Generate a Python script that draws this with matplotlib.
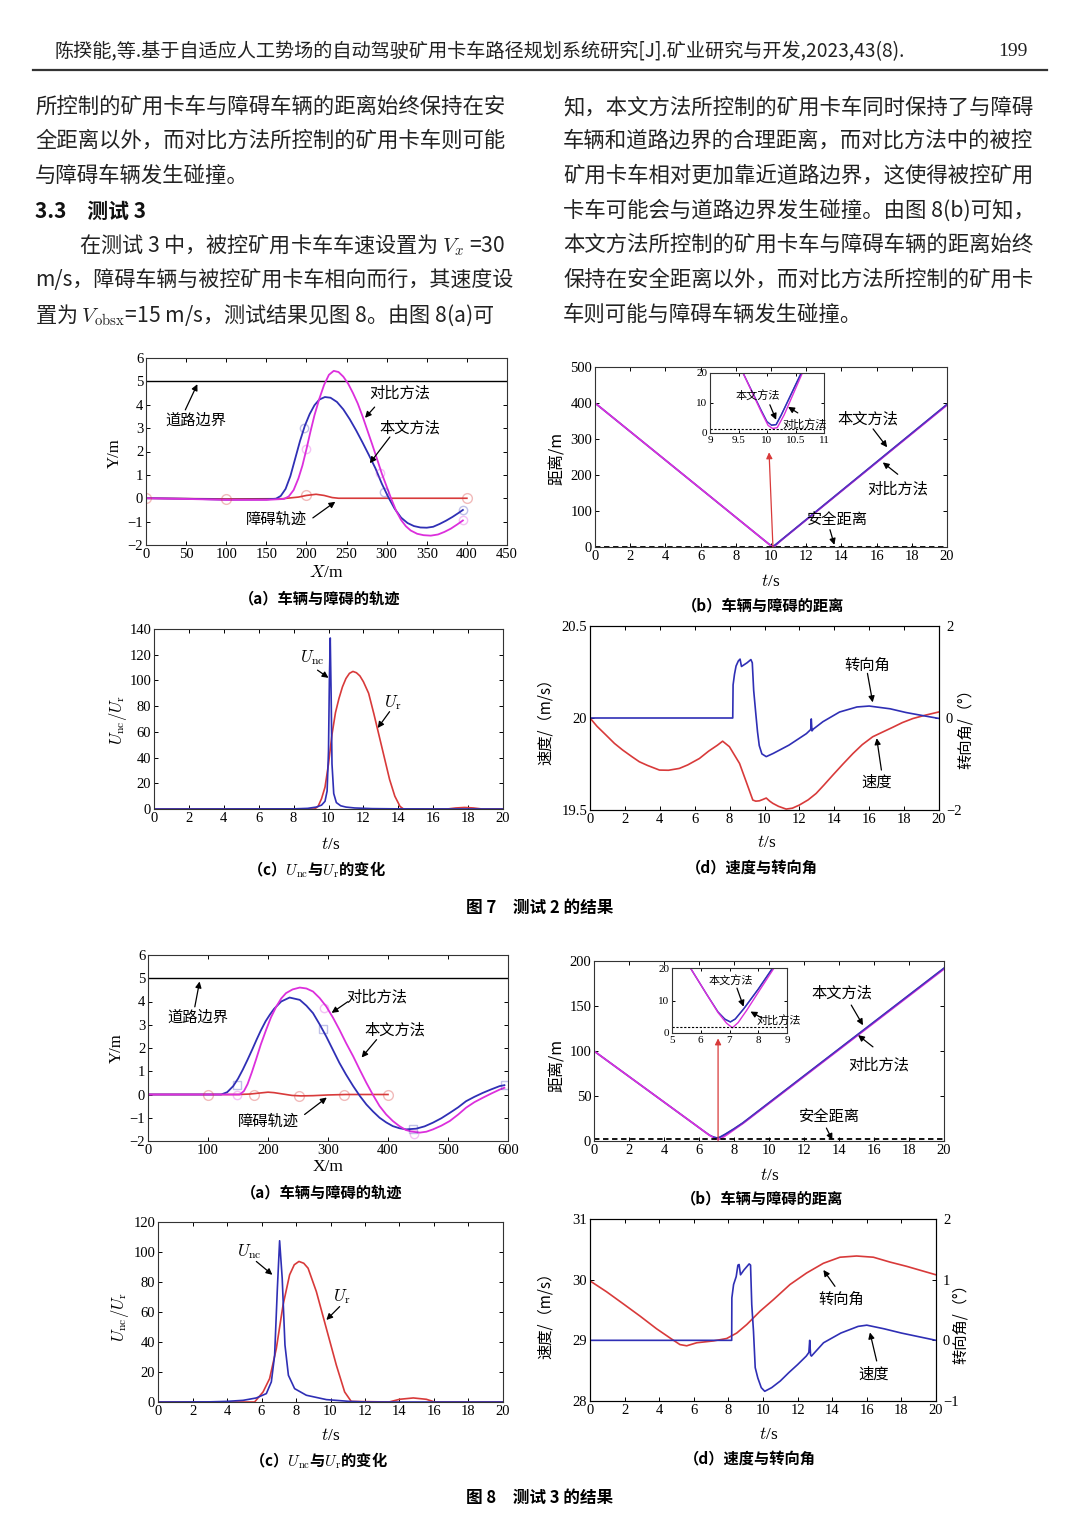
import matplotlib
matplotlib.use('Agg')
import matplotlib.pyplot as plt
from matplotlib.lines import Line2D

plt.rcParams['font.family'] = ['Liberation Serif', 'Noto Sans CJK SC']
plt.rcParams['mathtext.fontset'] = 'cm'
CJK = ['Noto Sans CJK SC', 'DejaVu Sans']

# ---------------- data: figure 7 (test 2) ----------------
# (a) trajectories
x7a_ours = [0, 50, 100, 150, 162, 168, 174, 180, 186, 192, 198, 204, 210, 216, 223, 230, 238, 246, 254, 262, 270, 278, 286, 294, 302, 310, 318, 326, 334, 342, 350, 358, 366, 374, 382, 390, 395]
y7a_ours = [0, -0.02, -0.06, -0.05, -0.02, 0.1, 0.4, 0.95, 1.7, 2.45, 3.1, 3.6, 3.98, 4.22, 4.33, 4.3, 4.12, 3.8, 3.38, 2.9, 2.38, 1.84, 1.28, 0.62, 0.05, -0.45, -0.83, -1.06, -1.19, -1.25, -1.26, -1.22, -1.1, -0.96, -0.8, -0.62, -0.5]
x7a_comp = [0, 50, 100, 150, 172, 178, 184, 190, 195, 200, 205, 210, 216, 222, 228, 234, 240, 246, 252, 258, 264, 270, 276, 282, 288, 294, 300, 306, 312, 318, 324, 330, 338, 346, 355, 364, 372, 380, 388, 395]
y7a_comp = [0, -0.03, -0.07, -0.07, -0.03, 0.08, 0.35, 0.85, 1.4, 2.1, 2.85, 3.55, 4.25, 4.85, 5.28, 5.45, 5.4, 5.2, 4.9, 4.5, 4.05, 3.5, 2.9, 2.3, 1.68, 1.05, 0.5, -0.05, -0.55, -0.93, -1.2, -1.38, -1.52, -1.58, -1.6, -1.55, -1.44, -1.3, -1.12, -0.95]
x7a_obs = [0, 100, 170, 190, 200, 212, 222, 232, 240, 400]
y7a_obs = [0, -0.03, -0.02, 0.05, 0.12, 0.17, 0.12, 0.03, 0, 0]
road_y = 5
# (b) distance
t7b_ours = [0, 9.58, 9.9, 10.0, 10.08, 10.16, 10.25, 10.6, 20]
d7b_ours = [400, 20, 7.5, 3.8, 2.6, 2.8, 6.0, 20, 396]
t7b_comp = [0, 9.58, 9.9, 10.02, 10.1, 10.18, 10.3, 10.62, 20]
d7b_comp = [400, 20, 7.0, 2.5, 1.5, 1.8, 6.0, 20, 394]
safe7 = 1.3
# (c) potentials
t7c_nc = [0, 8.0, 8.8, 9.3, 9.6, 9.8, 9.92, 10.0, 10.05, 10.1, 10.15, 10.2, 10.3, 10.45, 10.7, 11.0, 11.5, 12.5, 14, 20]
u7c_nc = [0, 0.1, 0.5, 1.5, 3, 6, 14, 45, 100, 133, 90, 35, 12, 5, 2.5, 1.5, 0.8, 0.3, 0.1, 0]
t7c_r = [0, 9.2, 9.4, 9.6, 9.8, 10.0, 10.2, 10.4, 10.6, 10.8, 11.0, 11.2, 11.4, 11.6, 11.8, 12.0, 12.3, 12.6, 12.9, 13.2, 13.5, 13.8, 14.1, 14.3, 16.8, 17.3, 17.8, 18.3, 18.8, 20]
u7c_r = [0, 0, 2, 8, 17, 35, 58, 75, 86, 95, 101.5, 105.5, 107, 106, 103.5, 99, 90, 74, 57, 40, 23, 10, 2, 0, 0, 0.8, 1.2, 0.8, 0, 0]
# (d) speed and steering angle
t7d_ang = [0, 8.18, 8.2, 8.28, 8.37, 8.5, 8.6, 8.68, 9.0, 9.22, 9.3, 9.38, 9.5, 9.6, 9.7, 9.85, 10.1, 10.5, 11.4, 12.4, 12.65, 12.68, 12.72, 12.8, 13.35, 14.3, 15.3, 16.0, 17.2, 18.1, 19.1, 20]
a7d_ang = [0, 0, 0.72, 0.95, 1.13, 1.24, 1.28, 1.12, 1.2, 1.27, 1.2, 0.6, 0.1, -0.3, -0.6, -0.78, -0.84, -0.77, -0.59, -0.34, -0.25, -0.02, -0.28, -0.24, -0.08, 0.13, 0.24, 0.26, 0.2, 0.12, 0.05, -0.01]
t7d_v = [0, 0.4, 0.92, 1.4, 1.87, 2.4, 2.83, 3.3, 3.98, 4.5, 5.12, 5.6, 6.27, 6.8, 7.3, 7.6, 7.99, 8.57, 8.95, 9.33, 9.5, 9.71, 9.9, 10.1, 10.3, 10.48, 10.8, 11.24, 11.6, 12.0, 12.5, 12.96, 13.4, 13.92, 14.5, 15.07, 15.6, 16.2, 16.8, 17.36, 17.9, 18.5, 19.2, 20]
v7d_v = [20.0, 19.955, 19.907, 19.862, 19.826, 19.79, 19.762, 19.742, 19.717, 19.716, 19.726, 19.745, 19.78, 19.82, 19.852, 19.874, 19.844, 19.753, 19.654, 19.554, 19.548, 19.55, 19.557, 19.565, 19.548, 19.536, 19.52, 19.505, 19.51, 19.527, 19.555, 19.59, 19.635, 19.69, 19.75, 19.807, 19.855, 19.898, 19.925, 19.95, 19.975, 19.997, 20.015, 20.033]

# ---------------- data: figure 8 (test 3) ----------------
x8a_ours = [0, 100, 122, 132, 142, 150, 158, 166, 174, 181, 188, 196, 203, 210, 222, 236, 253, 264, 275, 286, 297, 308, 319, 330, 342, 353, 364, 375, 386, 397, 408, 419, 430, 447, 461, 475, 489, 503, 517, 530, 544, 558, 572, 586, 594]
y8a_ours = [0, 0, 0, 0.1, 0.36, 0.68, 1.07, 1.5, 1.95, 2.36, 2.75, 3.15, 3.43, 3.68, 4.0, 4.17, 4.07, 3.82, 3.5, 3.02, 2.5, 1.93, 1.36, 0.86, 0.36, -0.06, -0.43, -0.73, -1.0, -1.2, -1.36, -1.45, -1.5, -1.47, -1.37, -1.21, -1.02, -0.79, -0.55, -0.29, -0.1, 0.07, 0.22, 0.36, 0.4]
x8a_comp = [0, 100, 153, 160, 166, 173, 180, 188, 197, 205, 214, 222, 230, 241, 253, 264, 275, 286, 297, 308, 319, 330, 342, 353, 364, 375, 386, 397, 408, 419, 430, 441, 453, 464, 475, 489, 503, 517, 530, 544, 558, 572, 586, 594]
y8a_comp = [0, 0, 0, 0.15, 0.45, 0.95, 1.5, 2.15, 2.79, 3.32, 3.79, 4.13, 4.36, 4.52, 4.6, 4.56, 4.43, 4.15, 3.79, 3.32, 2.79, 2.22, 1.64, 1.06, 0.5, -0.02, -0.5, -0.86, -1.14, -1.36, -1.53, -1.6, -1.64, -1.6, -1.5, -1.34, -1.14, -0.86, -0.57, -0.33, -0.14, 0.04, 0.21, 0.29]
x8a_obs = [0, 150, 170, 185, 200, 210, 225, 240, 255, 275, 300, 330, 400]
y8a_obs = [0, 0, 0.02, 0.06, 0.1, 0.08, 0.02, -0.04, -0.06, -0.05, -0.02, 0, 0]
t8b_ours = [0, 5.64, 6.2, 6.6, 6.85, 7.03, 7.2, 7.5, 8.0, 8.5, 20]
d8b_ours = [100, 20, 12, 6.5, 4.2, 3.4, 4.3, 7.5, 13.5, 20, 192]
t8b_comp = [0, 5.64, 6.2, 6.6, 6.9, 7.1, 7.3, 7.6, 8.05, 8.55, 20]
d8b_comp = [100, 20, 12, 6.3, 3.0, 1.6, 3.2, 7.0, 13.2, 20, 191]
safe8 = 1.8
t8c_nc = [0, 3, 3.96, 4.93, 5.7, 6.28, 6.57, 6.76, 6.92, 7.05, 7.2, 7.36, 7.56, 7.92, 8.6, 9.76, 11.1, 12.1, 20]
u8c_nc = [0, 0.1, 0.4, 1.1, 2.7, 5.6, 13.4, 31, 75.8, 107.5, 82.5, 38, 17.8, 8.9, 4.5, 1.6, 0.4, 0, 0]
t8c_r = [0, 5.6, 6.09, 6.47, 6.86, 7.25, 7.63, 7.9, 8.17, 8.45, 8.7, 9.18, 9.76, 10.34, 10.82, 11.2, 13.4, 14.0, 14.8, 15.56, 16.04, 20]
u8c_r = [0, 0, 6.7, 15.6, 35.7, 64.7, 84.8, 91.5, 93.7, 92.5, 89.2, 73.6, 49, 24.5, 6.7, 0.4, 0, 1.8, 2.7, 1.8, 0, 0]
t8d_v = [0, 0.96, 1.93, 2.89, 3.85, 4.62, 5.2, 5.59, 6.17, 7.13, 7.9, 8.48, 9.06, 9.83, 10.6, 11.56, 12.52, 13.49, 14.45, 15.41, 16.38, 17.34, 18.3, 19.27, 20]
v8d_v = [29.98, 29.8, 29.6, 29.4, 29.19, 29.04, 28.93, 28.91, 28.96, 28.99, 29.03, 29.12, 29.26, 29.48, 29.67, 29.92, 30.11, 30.27, 30.37, 30.39, 30.37, 30.29, 30.22, 30.14, 30.08]
t8d_ang = [0, 8.19, 8.2, 8.3, 8.45, 8.55, 8.62, 8.7, 8.9, 9.2, 9.28, 9.35, 9.45, 9.55, 9.7, 9.9, 10.1, 10.5, 11.0, 11.5, 12.0, 12.5, 12.65, 12.7, 12.75, 12.8, 13.5, 14.5, 15.5, 16.0, 17.0, 18.0, 19.0, 20.0]
a8d_ang = [0, 0, 0.7, 0.92, 1.05, 1.24, 1.25, 1.08, 1.16, 1.26, 1.24, 0.59, 0.15, -0.45, -0.62, -0.78, -0.84, -0.78, -0.67, -0.53, -0.4, -0.26, -0.2, 0.0, -0.24, -0.26, -0.04, 0.12, 0.23, 0.25, 0.19, 0.12, 0.06, 0]

# ---------------- page text ----------------
header = '陈揆能,等.基于自适应人工势场的自动驾驶矿用卡车路径规划系统研究[J].矿业研究与开发,2023,43(8).'
left_lines = ['所控制的矿用卡车与障碍车辆的距离始终保持在安',
              '全距离以外，而对比方法所控制的矿用卡车则可能',
              '与障碍车辆发生碰撞。']
left_lines2 = ['在测试 3 中，被控矿用卡车车速设置为 $V_x$ =30',
               'm/s，障碍车辆与被控矿用卡车相向而行，其速度设',
               '置为 $V_{\\rm obsx}$=15 m/s，测试结果见图 8。由图 8(a)可']
right_lines = ['知，本文方法所控制的矿用卡车同时保持了与障碍',
               '车辆和道路边界的合理距离，而对比方法中的被控',
               '矿用卡车相对更加靠近道路边界，这使得被控矿用',
               '卡车可能会与道路边界发生碰撞。由图 8(b)可知，',
               '本文方法所控制的矿用卡车与障碍车辆的距离始终',
               '保持在安全距离以外，而对比方法所控制的矿用卡',
               '车则可能与障碍车辆发生碰撞。']

BLUE = '#2f2fb5'
MAG = '#dc2fdc'
RED = '#d83a3a'

W, H = 1080, 1527
fig = plt.figure(figsize=(10.8, 15.27), dpi=100)


def put(x, y, s, **kw):
    kw.setdefault('family', CJK)
    fig.text(x / W, 1 - y / H, s, **kw)


def box(l, t, r, b, right=True, fs=10.5):
    ax = fig.add_axes([l / W, 1 - b / H, (r - l) / W, (b - t) / H])
    ax.tick_params(direction='in', top=True, right=right, labelsize=fs, length=3, width=0.7, pad=2)
    for s in ax.spines.values():
        s.set_linewidth(0.8)
        s.set_color('#333')
    return ax


def arrow(ax, tail, tip, color='k'):
    ax.annotate('', xy=tip, xytext=tail,
                arrowprops=dict(arrowstyle='-|>', color=color, lw=0.9, mutation_scale=9, shrinkA=0, shrinkB=0))


def label(ax, x, y, s, fs=11):
    ax.text(x, y, s, ha='center', va='center', fontsize=fs, family=CJK)


def distance_lines(ax, t_ours, d_ours, t_comp, d_comp, lw):
    # left branch looks magenta, right branch purple-blue in the original
    ax.plot(t_ours, d_ours, color=BLUE, lw=lw)
    ax.plot(t_comp, d_comp, color=MAG, lw=lw)
    ax.plot(t_ours[4:], d_ours[4:], color=BLUE, lw=lw, alpha=0.7)


# header
put(55, 52, header, fontsize=13.8, va='center', color='#222')
put(1028, 52, '199', fontsize=14, va='center', ha='right', family='Liberation Serif', color='#222')
fig.add_artist(Line2D([33 / W, 1047 / W], [1 - 70 / H, 1 - 70 / H], color='#333', lw=1.6, transform=fig.transFigure))

ys = [107, 141, 176, 211, 245, 280, 315]
for i, s in enumerate(left_lines):
    put(35, ys[i], s, fontsize=15.4, va='center', color='#222')
put(35, ys[3], '3.3　测试 3', fontsize=15, va='center', weight='bold', color='#111')
put(79, ys[4], left_lines2[0], fontsize=15.2, va='center', color='#222')
put(35, ys[5], left_lines2[1], fontsize=15.1, va='center', color='#222')
put(35, ys[6], left_lines2[2], fontsize=15.2, va='center', color='#222')
for i, s in enumerate(right_lines):
    put(563, ys[i], s, fontsize=15.4, va='center', color='#222')

# ---------- Fig 7 (a) ----------
ax = box(146, 358, 507, 545)
ax.axhline(road_y, color='k', lw=1.0)
ax.plot(x7a_obs, y7a_obs, color=RED, lw=1.2)
ax.plot(x7a_ours, y7a_ours, color=BLUE, lw=1.3)
ax.plot(x7a_comp, y7a_comp, color=MAG, lw=1.3)
ax.plot([0, 100, 200, 400], [0, -0.03, 0.15, 0], 'o', ms=7, mfc='none', mec=RED, alpha=0.35)
ax.plot([197, 297, 395], [3.0, 0.25, -0.5], 'o', ms=6, mfc='none', mec=BLUE, alpha=0.3)
ax.plot([200, 292, 395], [2.1, 1.1, -0.95], 'o', ms=6, mfc='none', mec=MAG, alpha=0.3)
ax.set_xlim(0, 450)
ax.set_ylim(-2, 6)
ax.set_xticks(range(0, 451, 50))
ax.set_yticks(range(-2, 7))
label(ax, 62, 3.35, '道路边界')
arrow(ax, (49, 3.78), (64, 4.88))
label(ax, 317, 4.5, '对比方法')
arrow(ax, (285, 3.9), (273, 3.44))
label(ax, 329, 3.0, '本文方法')
arrow(ax, (304, 2.62), (279, 1.5))
label(ax, 163, -0.92, '障碍轨迹')
arrow(ax, (208, -0.84), (236, -0.15))
put(115, 453, 'Y/m', rotation=90, fontsize=12, ha='center', va='center', family='Liberation Serif')
put(326, 573, '$X$/m', fontsize=12.5, ha='center', va='center', family='Liberation Serif')
put(320, 598, '（a）车辆与障碍的轨迹', fontsize=11, ha='center', va='center', weight='bold')

# ---------- Fig 7 (b) ----------
ax = box(595, 367, 947, 547)
distance_lines(ax, t7b_ours, d7b_ours, t7b_comp, d7b_comp, 1.2)
ax.axhline(safe7, color='k', lw=1.3, ls=(0, (3, 2)))
ax.set_xlim(0, 20)
ax.set_ylim(0, 500)
ax.set_xticks(range(0, 21, 2))
ax.set_yticks(range(0, 501, 100))
arrow(ax, (10.11, 0), (9.89, 263), color=RED)
label(ax, 15.5, 356, '本文方法')
arrow(ax, (15.8, 328), (16.6, 277))
label(ax, 17.2, 160, '对比方法')
arrow(ax, (17.2, 202), (16.35, 235))
label(ax, 13.75, 76, '安全距离')
arrow(ax, (13.35, 48), (13.6, 6))
ins = box(710, 373, 824, 433, fs=8)
ins.tick_params(length=2)
distance_lines(ins, t7b_ours, d7b_ours, t7b_comp, d7b_comp, 1.0)
ins.axhline(safe7, color='k', lw=0.8, ls=(0, (2, 1.5)))
ins.set_xlim(9, 11)
ins.set_ylim(0, 20)
ins.set_xticks([9, 9.5, 10, 10.5, 11])
ins.set_xticklabels(['9', '9.5', '10', '10.5', '11'])
ins.set_yticks([0, 10, 20])
label(ins, 9.84, 12.1, '本文方法', fs=8)
arrow(ins, (10.05, 9.4), (10.16, 4.4))
label(ins, 10.67, 2.7, '对比方法', fs=8)
arrow(ins, (10.54, 6.7), (10.37, 8.7))
put(557, 458, '距离/m', rotation=90, fontsize=11.5, ha='center', va='center')
put(771, 582, '$t$/s', fontsize=12.5, ha='center', va='center', family='Liberation Serif')
put(763, 605, '（b）车辆与障碍的距离', fontsize=11, ha='center', va='center', weight='bold')

# ---------- Fig 7 (c) ----------
ax = box(154, 629, 503, 809)
ax.plot(t7c_r, u7c_r, color=RED, lw=1.2)
ax.plot(t7c_nc, u7c_nc, color=BLUE, lw=1.2)
ax.set_xlim(0, 20)
ax.set_ylim(0, 140)
ax.set_xticks(range(0, 21, 2))
ax.set_yticks(range(0, 141, 20))
ax.text(9.1, 118, '$U_{\\rm nc}$', ha='center', va='center', fontsize=12)
arrow(ax, (9.37, 108), (10.0, 102))
ax.text(13.7, 82.6, '$U_{\\rm r}$', ha='center', va='center', fontsize=12)
arrow(ax, (13.5, 75.7), (12.82, 63))
put(118, 720, '$U_{\\rm nc}/U_{\\rm r}$', rotation=90, fontsize=12, ha='center', va='center')
put(331, 845, '$t$/s', fontsize=12.5, ha='center', va='center', family='Liberation Serif')
put(316, 870, '（c）$U_{\\rm nc}$与$U_{\\rm r}$的变化', fontsize=11, ha='center', va='center', weight='bold')

# ---------- Fig 7 (d) ----------
ax = box(590, 626, 939, 810, right=False)
ax2 = ax.twinx()
ax2.tick_params(direction='in', labelsize=10.5, length=3, width=0.7, pad=5)
ax.plot(t7d_v, v7d_v, color=RED, lw=1.2)
ax2.plot(t7d_ang, a7d_ang, color=BLUE, lw=1.2)
ax.set_xlim(0, 20)
ax.set_ylim(19.5, 20.5)
ax.set_xticks(range(0, 21, 2))
ax.set_yticks([19.5, 20, 20.5])
ax.set_yticklabels(['19.5', '20', '20.5'])
ax2.set_ylim(-2, 2)
ax2.set_yticks([-2, 0, 2])
label(ax2, 15.9, 1.15, '转向角')
arrow(ax2, (15.9, 0.97), (16.2, 0.34))
label(ax, 16.4, 19.652, '速度')
arrow(ax, (16.7, 19.717), (16.43, 19.89))
put(545, 718, '速度/（m/s）', rotation=90, fontsize=11, ha='center', va='center')
put(965, 725, '转向角/（°）', rotation=90, fontsize=11, ha='center', va='center')
put(767, 843, '$t$/s', fontsize=12.5, ha='center', va='center', family='Liberation Serif')
put(752, 867, '（d）速度与转向角', fontsize=11, ha='center', va='center', weight='bold')

put(540, 908, '图 7　测试 2 的结果', fontsize=12, ha='center', va='center', weight='bold')

# ---------- Fig 8 (a) ----------
ax = box(148, 955, 508, 1141)
ax.axhline(road_y, color='k', lw=1.0)
ax.plot(x8a_obs, y8a_obs, color=RED, lw=1.2)
ax.plot(x8a_ours, y8a_ours, color=BLUE, lw=1.3)
ax.plot(x8a_comp, y8a_comp, color=MAG, lw=1.3)
ax.plot([100, 176, 252, 327, 400], [0, 0, -0.05, 0, 0], 'o', ms=7, mfc='none', mec=RED, alpha=0.35)
ax.plot([148, 292, 442, 595], [0.4, 2.8, -1.5, 0.4], 's', ms=6, mfc='none', mec=BLUE, alpha=0.3)
ax.plot([148, 293, 443], [0, 3.7, -1.7], 'o', ms=6, mfc='none', mec=MAG, alpha=0.3)
ax.set_xlim(0, 600)
ax.set_ylim(-2, 6)
ax.set_xticks(range(0, 601, 100))
ax.set_yticks(range(-2, 7))
label(ax, 83, 3.34, '道路边界')
arrow(ax, (78, 3.77), (86, 4.86))
label(ax, 381, 4.2, '对比方法')
arrow(ax, (333, 3.99), (306, 3.51))
label(ax, 411, 2.79, '本文方法')
arrow(ax, (381, 2.36), (356, 1.59))
label(ax, 200, -1.16, '障碍轨迹')
arrow(ax, (261, -0.86), (298, -0.13))
put(117, 1048, 'Y/m', rotation=90, fontsize=12, ha='center', va='center', family='Liberation Serif')
put(328, 1167, 'X/m', fontsize=12.5, ha='center', va='center', family='Liberation Serif')
put(322, 1192, '（a）车辆与障碍的轨迹', fontsize=11, ha='center', va='center', weight='bold')

# ---------- Fig 8 (b) ----------
ax = box(594, 961, 944, 1141)
distance_lines(ax, t8b_ours, d8b_ours, t8b_comp, d8b_comp, 1.2)
ax.axhline(safe8, color='k', lw=1.3, ls=(0, (3, 2)))
ax.set_xlim(0, 20)
ax.set_ylim(0, 200)
ax.set_xticks(range(0, 21, 2))
ax.set_yticks(range(0, 201, 50))
arrow(ax, (7.09, 0.3), (7.09, 114), color=RED)
label(ax, 14.14, 164, '本文方法')
arrow(ax, (14.7, 151), (15.37, 128.6))
label(ax, 16.3, 84, '对比方法')
arrow(ax, (15.94, 104.6), (15.09, 117.6))
label(ax, 13.46, 27, '安全距离')
arrow(ax, (13.28, 14.4), (13.62, 1.1))
ins = box(672, 968, 787, 1033, fs=8)
ins.tick_params(length=2)
distance_lines(ins, t8b_ours, d8b_ours, t8b_comp, d8b_comp, 1.0)
ins.axhline(safe8, color='k', lw=0.8, ls=(0, (2, 1.5)))
ins.set_xlim(5, 9)
ins.set_ylim(0, 20)
ins.set_xticks([5, 6, 7, 8, 9])
ins.set_yticks([0, 10, 20])
label(ins, 7.03, 15.9, '本文方法', fs=8)
arrow(ins, (7.26, 13.8), (7.49, 8.1))
label(ins, 8.7, 3.7, '对比方法', fs=8)
arrow(ins, (8.13, 4.6), (7.73, 6.6))
put(557, 1065, '距离/m', rotation=90, fontsize=11.5, ha='center', va='center')
put(770, 1176, '$t$/s', fontsize=12.5, ha='center', va='center', family='Liberation Serif')
put(762, 1198, '（b）车辆与障碍的距离', fontsize=11, ha='center', va='center', weight='bold')

# ---------- Fig 8 (c) ----------
ax = box(158, 1222, 503, 1402)
ax.plot(t8c_r, u8c_r, color=RED, lw=1.2)
ax.plot(t8c_nc, u8c_nc, color=BLUE, lw=1.2)
ax.set_xlim(0, 20)
ax.set_ylim(0, 120)
ax.set_xticks(range(0, 21, 2))
ax.set_yticks(range(0, 121, 20))
ax.text(5.3, 100.4, '$U_{\\rm nc}$', ha='center', va='center', fontsize=12)
arrow(ax, (5.7, 93.7), (6.63, 84.8))
ax.text(10.63, 70.3, '$U_{\\rm r}$', ha='center', va='center', fontsize=12)
arrow(ax, (10.53, 63.6), (9.76, 54.7))
put(120, 1317, '$U_{\\rm nc}/U_{\\rm r}$', rotation=90, fontsize=12, ha='center', va='center')
put(331, 1436, '$t$/s', fontsize=12.5, ha='center', va='center', family='Liberation Serif')
put(318, 1461, '（c）$U_{\\rm nc}$与$U_{\\rm r}$的变化', fontsize=11, ha='center', va='center', weight='bold')

# ---------- Fig 8 (d) ----------
ax = box(590, 1219, 936, 1401, right=False)
ax2 = ax.twinx()
ax2.tick_params(direction='in', labelsize=10.5, length=3, width=0.7, pad=5)
ax.plot(t8d_v, v8d_v, color=RED, lw=1.2)
ax2.plot(t8d_ang, a8d_ang, color=BLUE, lw=1.2)
ax.set_xlim(0, 20)
ax.set_ylim(28, 31)
ax.set_xticks(range(0, 21, 2))
ax.set_yticks([28, 29, 30, 31])
ax2.set_ylim(-1, 2)
ax2.set_yticks([-1, 0, 1, 2])
label(ax2, 14.55, 0.67, '转向角')
arrow(ax2, (14.16, 0.89), (13.49, 1.16))
label(ax2, 16.37, -0.56, '速度')
arrow(ax2, (16.57, -0.34), (16.18, 0.13))
put(545, 1312, '速度/（m/s）', rotation=90, fontsize=11, ha='center', va='center')
put(960, 1320, '转向角/（°）', rotation=90, fontsize=11, ha='center', va='center')
put(769, 1435, '$t$/s', fontsize=12.5, ha='center', va='center', family='Liberation Serif')
put(750, 1458, '（d）速度与转向角', fontsize=11, ha='center', va='center', weight='bold')

put(540, 1498, '图 8　测试 3 的结果', fontsize=12, ha='center', va='center', weight='bold')

fig.savefig('out.png', dpi=100, facecolor='white')
